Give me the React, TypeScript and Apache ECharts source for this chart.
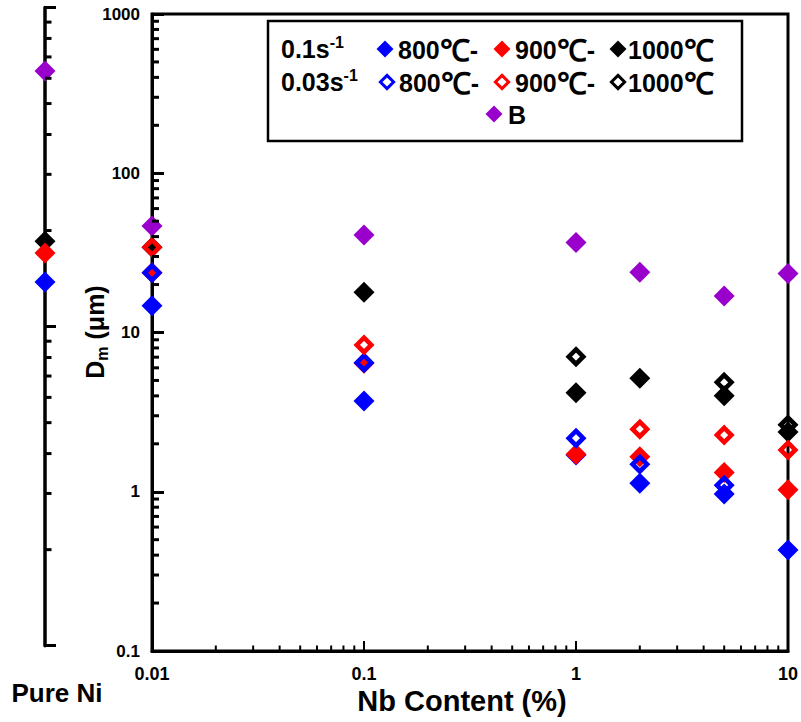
import React, { useEffect, useRef } from 'react';
import * as echarts from 'echarts';

// ---- data ----
const nbContent = [0.01, 0.1, 1, 2, 5, 10];
const valuesB = [46.7, 40.9, 36.8, 23.9, 16.95, 23.5];
const fast800 = [14.7, 3.72, 1.7, 1.13, 0.968, 0.431];
const fast900 = [23.7, 6.4, 1.72, 1.66, 1.32, 1.03];
const fast1000 = [34.3, 17.9, 4.19, 5.16, 4.01, 2.37];
const slow800 = [23.7, 6.46, 2.17, 1.49, 1.1, null];
const slow900 = [34.3, 8.35, null, 2.47, 2.27, 1.83];
const slow1000 = [null, null, 7.05, null, 4.87, 2.63];

// Pure Ni (separate side axis)
const pureNiNames = ['1000', '900', '800', 'B'];
const pureNiValues = [18.5, 17.0, 13.8, 63.2];

const rateLabels = ['0.1s', '0.03s'];
const tempNumbers = ['800', '900', '1000'];
const tempSuffix = ['-', '-', ''];

const yMainRange = [0.1, 1000];
const xMainRange = [0.01, 10];
const ySideRange = [1, 100];

const BLUE = '#0000ff';
const RED = '#ff0000';
const BLACK = '#000000';
const PURPLE = '#9900cc';
const FONT = "'Liberation Sans', Arial, Helvetica, sans-serif";

const pairs = (vals: (number | null)[]) =>
  nbContent.map((x, i) => (vals[i] == null ? null : [x, vals[i]])).filter((d) => d !== null);

const filled = (name: string, color: string, vals: (number | null)[]) => ({
  type: 'scatter',
  name,
  xAxisIndex: 0,
  yAxisIndex: 0,
  symbol: 'diamond',
  symbolSize: 21,
  clip: false,
  itemStyle: { color, opacity: 1 },
  emphasis: { disabled: true },
  data: pairs(vals),
});

const hollow = (name: string, color: string, vals: (number | null)[]) => ({
  type: 'scatter',
  name,
  xAxisIndex: 0,
  yAxisIndex: 0,
  symbol: 'diamond',
  symbolSize: 14.5,
  clip: false,
  itemStyle: {
    color: 'transparent',
    borderColor: color,
    borderWidth: 4.6,
    borderJoin: 'miter',
    borderMiterLimit: 10,
    opacity: 1,
  },
  emphasis: { disabled: true },
  data: pairs(vals),
});

const pureColors: Record<string, string> = { '1000': BLACK, '900': RED, '800': BLUE, B: PURPLE };

const diamondPts = (cx: number, cy: number, r: number) => [
  [cx, cy - r],
  [cx + r, cy],
  [cx, cy + r],
  [cx - r, cy],
];

export default function App() {
  const ref = useRef<HTMLDivElement>(null);

  useEffect(() => {
    if (!ref.current) return;
    const chart = echarts.init(ref.current, undefined, { renderer: 'svg' });

    const fmt = (v: number) => String(Number(Number(v).toPrecision(4)));

    const option: any = {
      animation: false,
      backgroundColor: '#ffffff',
      grid: [
        {
          left: 152,
          top: 14,
          right: 13,
          bottom: 71,
          show: true,
          borderColor: '#000',
          borderWidth: 3,
          containLabel: false,
          outerBoundsMode: 'none',
        },
        {
          left: 45,
          top: 7.5,
          width: 10,
          bottom: 76.3,
          show: false,
          containLabel: false,
          outerBoundsMode: 'none',
        },
      ],
      xAxis: [
        {
          type: 'log',
          logBase: 10,
          gridIndex: 0,
          min: xMainRange[0],
          max: xMainRange[1],
          axisLine: { show: true, lineStyle: { color: '#000', width: 3 } },
          axisTick: { show: true, inside: true, length: 10, lineStyle: { color: '#000', width: 2 } },
          axisLabel: {
            show: true,
            color: '#000',
            fontSize: 18,
            fontWeight: 'bold',
            fontFamily: FONT,
            margin: 14,
            formatter: fmt,
          },
          splitLine: { show: false },
        },
        {
          type: 'value',
          gridIndex: 1,
          min: 0,
          max: 1,
          show: false,
        },
      ],
      yAxis: [
        {
          type: 'log',
          logBase: 10,
          gridIndex: 0,
          min: yMainRange[0],
          max: yMainRange[1],
          axisLine: { show: true, lineStyle: { color: '#000', width: 3 } },
          axisTick: { show: true, inside: true, length: 12, lineStyle: { color: '#000', width: 3 } },
          axisLabel: {
            show: true,
            color: '#000',
            fontSize: 17,
            fontWeight: 'bold',
            fontFamily: FONT,
            margin: 12,
            formatter: fmt,
          },
          splitLine: { show: false },
        },
        {
          type: 'log',
          logBase: 10,
          gridIndex: 1,
          min: ySideRange[0],
          max: ySideRange[1],
          axisLine: { show: true, lineStyle: { color: '#000', width: 3.5 } },
          axisTick: { show: true, inside: true, length: 11, lineStyle: { color: '#000', width: 3 } },
          axisLabel: { show: false },
          splitLine: { show: false },
        },
      ],
      series: [
        filled('B', PURPLE, valuesB),
        filled('0.1s-1 800℃', BLUE, fast800),
        filled('0.1s-1 900℃', RED, fast900),
        filled('0.1s-1 1000℃', BLACK, fast1000),
        hollow('0.03s-1 800℃', BLUE, slow800),
        hollow('0.03s-1 900℃', RED, slow900),
        hollow('0.03s-1 1000℃', BLACK, slow1000),
        ...pureNiNames.map((n, i) => ({
          type: 'scatter',
          name: 'Pure Ni ' + n,
          xAxisIndex: 1,
          yAxisIndex: 1,
          symbol: 'diamond',
          symbolSize: 21,
          clip: false,
          itemStyle: { color: pureColors[n], opacity: 1 },
          emphasis: { disabled: true },
          data: [[0, pureNiValues[i]]],
        })),
      ],
    };

    chart.setOption(option);

    // ---- decorations: minor log ticks, legend, titles ----
    const els: any[] = [];
    const minorMult = [2, 3, 4, 5, 6, 7, 8, 9];
    const decades = (lo: number, hi: number) => {
      const out: number[] = [];
      for (let d = lo; d < hi * 0.999; d *= 10) out.push(d);
      return out;
    };

    const xLeft = chart.convertToPixel({ xAxisIndex: 0 }, xMainRange[0]) as number;
    const yBottom = chart.convertToPixel({ yAxisIndex: 0 }, yMainRange[0]) as number;
    decades(yMainRange[0], yMainRange[1]).forEach((d) =>
      minorMult.forEach((k) => {
        const py = chart.convertToPixel({ yAxisIndex: 0 }, d * k) as number;
        els.push({
          type: 'line',
          shape: { x1: xLeft, y1: py, x2: xLeft + 7, y2: py },
          style: { stroke: '#000', lineWidth: 3 },
          z: 5,
        });
      })
    );
    decades(xMainRange[0], xMainRange[1]).forEach((d) =>
      minorMult.forEach((k) => {
        const px = chart.convertToPixel({ xAxisIndex: 0 }, d * k) as number;
        els.push({
          type: 'line',
          shape: { x1: px, y1: yBottom, x2: px, y2: yBottom - 5.5 },
          style: { stroke: '#000', lineWidth: 2 },
          z: 5,
        });
      })
    );
    const sideX = chart.convertToPixel({ xAxisIndex: 1 }, 0) as number;
    decades(ySideRange[0], ySideRange[1]).forEach((d) =>
      minorMult.forEach((k) => {
        const py = chart.convertToPixel({ yAxisIndex: 1 }, d * k) as number;
        els.push({
          type: 'line',
          shape: { x1: sideX, y1: py, x2: sideX + 6.5, y2: py },
          style: { stroke: '#000', lineWidth: 3 },
          z: 5,
        });
      })
    );

    // legend box
    els.push({
      type: 'rect',
      shape: { x: 268, y: 21, width: 474, height: 120 },
      style: { fill: '#fff', stroke: '#000', lineWidth: 2.5 },
      z: 20,
    });
    const richBase = {
      a: { fontSize: 25, fontWeight: 'bold', fontFamily: FONT, fill: '#000', lineHeight: 30 },
      p: { fontSize: 16, fontWeight: 'bold', fontFamily: FONT, fill: '#000', lineHeight: 26, verticalAlign: 'top' },
      c: { fontSize: 30, fontWeight: 'bold', fontFamily: FONT, fill: '#000', lineHeight: 30 },
    };
    const txt = (x: number, y: number, text: string) => ({
      type: 'text',
      x,
      y,
      z: 21,
      style: {
        text,
        fill: '#000',
        fontSize: 25,
        fontWeight: 'bold',
        fontFamily: FONT,
        align: 'left',
        textAlign: 'left',
        verticalAlign: 'middle',
        textVerticalAlign: 'middle',
        rich: richBase,
      },
    });
    const rowY = [49, 82];
    const markX = [385, 502, 618];
    const labelX = [398, 515, 628];
    const tempColors = [BLUE, RED, BLACK];
    rateLabels.forEach((r, ri) => {
      els.push(txt(281, rowY[ri], `{a|${r}}{p|-1}`));
      tempNumbers.forEach((t, ti) => {
        const cx = markX[ti] + (ri === 1 && ti === 0 ? 2 : 0);
        if (ri === 0) {
          els.push({
            type: 'polygon',
            shape: { points: diamondPts(cx, rowY[ri], 8.5) },
            style: { fill: tempColors[ti] },
            z: 21,
          });
        } else {
          els.push({
            type: 'polygon',
            shape: { points: diamondPts(cx, rowY[ri], 6.6) },
            style: { fill: 'none', stroke: tempColors[ti], lineWidth: 3, lineJoin: 'miter' },
            z: 21,
          });
        }
        const suffix = tempSuffix[ti] ? `{a|${tempSuffix[ti]}}` : '';
        els.push(
          txt(labelX[ti] + (ri === 1 && ti === 0 ? 1 : 0), rowY[ri] + 1, `{a|${t}}{c|℃}${suffix}`)
        );
      });
    });
    els.push({
      type: 'polygon',
      shape: { points: diamondPts(494, 114, 8.5) },
      style: { fill: PURPLE },
      z: 21,
    });
    els.push(txt(508, 115, '{a|B}'));

    // titles
    els.push({
      type: 'text',
      x: 462,
      y: 701,
      z: 21,
      style: {
        text: 'Nb Content (%)',
        fill: '#000',
        fontSize: 29,
        fontWeight: 'bold',
        fontFamily: FONT,
        align: 'center',
        textAlign: 'center',
        verticalAlign: 'middle',
        textVerticalAlign: 'middle',
      },
    });
    els.push({
      type: 'text',
      x: 57,
      y: 693,
      z: 21,
      style: {
        text: 'Pure Ni',
        fill: '#000',
        fontSize: 26,
        fontWeight: 'bold',
        fontFamily: FONT,
        align: 'center',
        textAlign: 'center',
        verticalAlign: 'middle',
        textVerticalAlign: 'middle',
      },
    });
    els.push({
      type: 'text',
      x: 95,
      y: 332,
      rotation: Math.PI / 2,
      z: 21,
      style: {
        text: '{a|D}{b|m}{a| (μm)}',
        fill: '#000',
        fontFamily: FONT,
        align: 'center',
        textAlign: 'center',
        verticalAlign: 'middle',
        textVerticalAlign: 'middle',
        rich: {
          a: { fontSize: 25, fontWeight: 'bold', fontFamily: FONT, fill: '#000', lineHeight: 30 },
          b: { fontSize: 16, fontWeight: 'bold', fontFamily: FONT, fill: '#000', lineHeight: 8, verticalAlign: 'bottom' },
        },
      },
    });

    chart.setOption({ graphic: els });

    return () => {
      chart.dispose();
    };
  }, []);

  return (
    <div
      ref={ref}
      style={{ position: 'fixed', left: 0, top: 0, width: 801, height: 722, background: '#fff' }}
    />
  );
}
